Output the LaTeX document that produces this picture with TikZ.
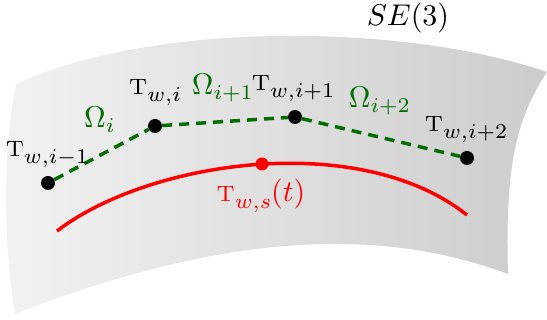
\documentclass[tikz,border=0pt]{standalone}
\usepackage{amsmath}
\usepackage{graphicx}
\definecolor{dgreen}{RGB}{0,110,0}
\definecolor{surfL}{RGB}{242,242,242}
\definecolor{surfR}{RGB}{204,204,204}
\newcommand{\bigtxt}[1]{\scalebox{3}{#1}}
\newcommand{\Tsc}[1]{{\fontsize{7.4}{8}\selectfont T}\raisebox{-2.3pt}{$\scriptstyle #1$}}
\begin{document}
\begin{tikzpicture}[x=1pt,y=-1pt,
  dot/.style={circle,fill=black,inner sep=0pt,minimum size=14pt},
  rdot/.style={circle,fill=red,inner sep=0pt,minimum size=13pt},
  lab/.style={anchor=base,inner sep=0pt},
  glab/.style={lab,text=dgreen},
  link/.style={draw=dgreen,line width=3.5pt,dash pattern=on 10pt off 7pt},
  traj/.style={draw=red,line width=3.5pt}]
\useasboundingbox (0,0) rectangle (547,320);
% surface
\shade[left color=surfL,right color=surfR]
  (16,84) .. controls (150,22) and (400,22) .. (547,72)
  .. controls (515,120) and (505,170) .. (508,274)
  .. controls (400,234) and (250,222) .. (15,314)
  .. controls (4,250) and (2,150) .. (16,84) -- cycle;
% points
\node[dot] (p1) at (48,183) {};
\node[dot] (p2) at (155,126) {};
\node[dot] (p3) at (295,117) {};
\node[dot] (p4) at (467,158) {};
\draw[link] (p1) -- (p2) -- (p3) -- (p4);
% trajectory
\coordinate (rs) at (57,231);
\coordinate (re) at (467,215);
\draw[traj] (rs) .. controls (150,160) and (360,130) .. (re);
\node[rdot] (rd) at (262,164) {};
% labels
\node[lab] (l1) at (47,157) {\bigtxt{\Tsc{w,i-1}}};
\node[lab] (l2) at (155,95) {\bigtxt{\Tsc{w,i}}};
\node[lab] (l3) at (293,91) {\bigtxt{\Tsc{w,i+1}}};
\node[lab] (l4) at (466,132) {\bigtxt{\Tsc{w,i+2}}};
\node[glab] (o1) at (100,128) {\bigtxt{$\Omega_{i}$}};
\node[glab] (o2) at (223,95) {\bigtxt{$\Omega_{i+1}$}};
\node[glab] (o3) at (380,108) {\bigtxt{$\Omega_{i+2}$}};
\node[lab,text=red] (lt) at (261,202) {\bigtxt{\Tsc{w,s}$(t)$}};
\node[lab] (se) at (408,26) {\bigtxt{$SE(3)$}};
\end{tikzpicture}
\end{document}
